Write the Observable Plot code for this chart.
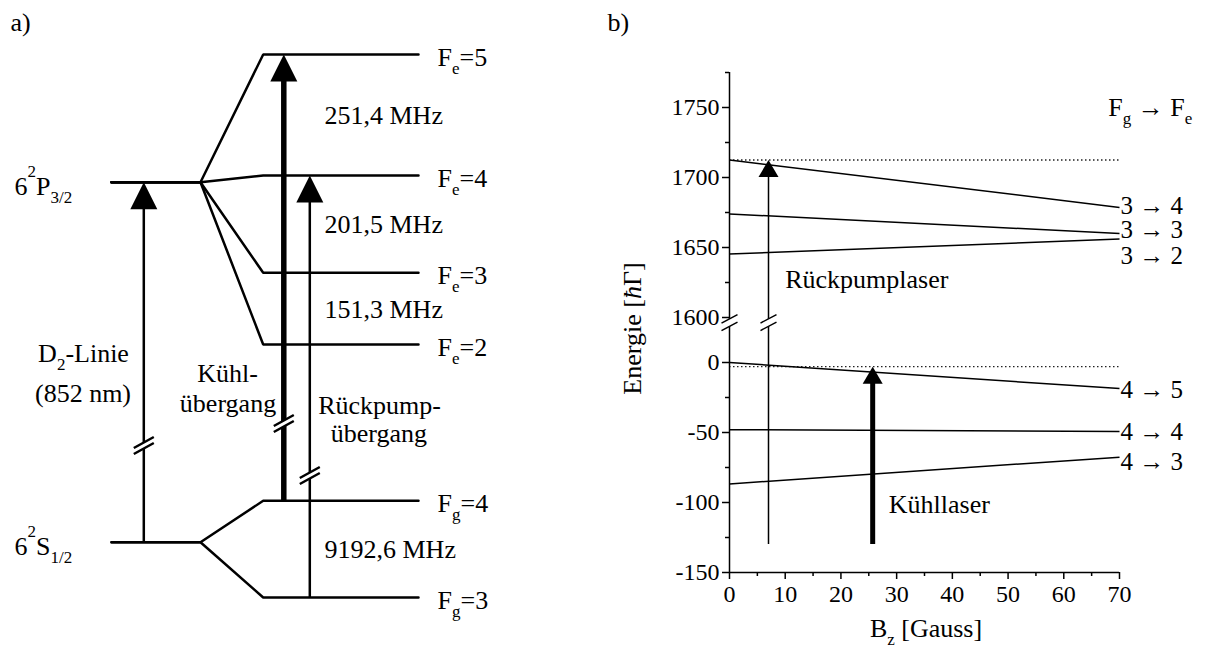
<!DOCTYPE html>
<html>
<head>
<meta charset="utf-8">
<script src="https://cdn.jsdelivr.net/npm/d3@7"></script>
<script src="https://cdn.jsdelivr.net/npm/@observablehq/plot@0.6"></script>
<style>
  html, body { margin: 0; padding: 0; background: #fff; }
  #fig { display: flex; width: 1207px; height: 648px; }
  #fig svg { display: block; }
</style>
</head>
<body>
<div id="fig"></div>
<script>
// ---------- (a) Cs D2 line: fine and hyperfine levels (schematic heights, up = higher energy)
const fineTerms = ["6^{2}P_{3/2}", "6^{2}S_{1/2}"];
const fineHeight = [466.3, 106.3];
const hfLabels = ["F_{e}=5", "F_{e}=4", "F_{e}=3", "F_{e}=2", "F_{g}=4", "F_{g}=3"];
const hfHeight = [594, 473, 375.7, 304, 147.7, 51];
const hfParent = [0, 0, 0, 0, 1, 1];
const splitLabels = ["251,4 MHz", "201,5 MHz", "151,3 MHz", "9192,6 MHz"];
const splitPairs = [[0, 1], [1, 2], [2, 3], [4, 5]];
const transNames = ["D2", "Kühl", "Rückpump"];
const transX = [143.3, 283.3, 309.3];
const transFrom = [106.3, 147.7, 51];
const transTo = [466.3, 594, 473];
const transBreak = [203, 225, 173];
const transText = [["D_{2}-Linie", "(852 nm)"], ["Kühl-", "übergang"], ["Rückpump-", "übergang"]];
const transTextX = [[83, 82.5], [227, 227.5], [379, 378.3]];
const transTextH = [[295, 255], [275, 245], [243.3, 215]];

// ---------- (b) Zeeman shift of the transitions vs. magnetic field
const bField = [0, 70];
const zeemanNames = ["3 → 4", "3 → 3", "3 → 2", "4 → 5", "4 → 4", "4 → 3"];
const energyAt0 = [1712.5, 1674, 1645.3, 0, -48, -86.7];
const energyAt70 = [1678.6, 1660, 1656, -18.6, -49.3, -67.6];
const labelEnergy = [1680, 1662.5, 1644, -20, -50, -71];
const laserNames = ["Rückpumplaser", "Kühllaser"];
const laserB = [7, 25.7];
const laserBottom = [-130, -130];
const laserTarget = [1712.5, -3];
const laserLabelB = [10, 28.6];
const laserLabelE = [1627, -101.4];
const yMajor = [-150, -100, -50, 0, 1600, 1650, 1700, 1750];
const yMinor = [-125, -75, -25, 1625, 1675, 1725, 1775];
const xMajor = [0, 10, 20, 30, 40, 50, 60, 70];
const xMinor = [5, 15, 25, 35, 45, 55, 65];
const axisExtent = [-150, 1775];
const axisBreak = 1420; // lies in the omitted range 0…1600

// broken energy axis: the range 0…1600 is squeezed into a short gap
const GAP = 32.14;
const brk = v => v <= 0 ? v : v >= 1600 ? v - 1600 + GAP : v / 1600 * GAP;
const unbrk = d => Math.round(d <= 0 ? d : d >= GAP ? d + 1600 - GAP : d / GAP * 1600);

const FONT = "'Liberation Serif', 'Times New Roman', serif";

// filled arrow head with its tip at the anchor point
const head = (w, h) => ({
  draw(ctx) { ctx.moveTo(0, 0); ctx.lineTo(w / 2, h); ctx.lineTo(-w / 2, h); ctx.closePath(); }
});
// "//" break mark and the white gap between its strokes
const slashes = (w, rise, sep) => ({
  draw(ctx) {
    for (const o of [-sep / 2, sep / 2]) { ctx.moveTo(-w / 2, o + rise / 2); ctx.lineTo(w / 2, o - rise / 2); }
  }
});
const slashGap = (g, w, rise, sep) => ({
  draw(ctx) {
    const k = rise / w;
    ctx.moveTo(-g, -sep / 2 + k * g); ctx.lineTo(g, -sep / 2 - k * g);
    ctx.lineTo(g, sep / 2 - k * g); ctx.lineTo(-g, sep / 2 + k * g); ctx.closePath();
  }
});

// turn _{..} / ^{..} / *{..} markup into subscript, superscript and italic tspans
function scripts(svg, small, sub, sup) {
  d3.select(svg).selectAll("text").each(function () {
    const s = this.textContent;
    if (!/[_^*]\{/.test(s)) return;
    const el = d3.select(this);
    el.text(null);
    let shift = 0;
    for (const m of s.matchAll(/([_^*])\{([^}]*)\}|([^_^*{}]+)/g)) {
      const t = el.append("tspan");
      let target = 0;
      if (m[1] === "_" || m[1] === "^") {
        target = m[1] === "_" ? sub : -sup;
        t.attr("font-size", small).text(m[2]);
      } else if (m[1] === "*") {
        t.attr("font-style", "italic").text(m[2]);
      } else {
        t.text(m[3]);
      }
      if (target - shift !== 0) t.attr("dy", target - shift);
      shift = target;
    }
  });
}

// ---------- panel (a)
const col = {fineStart: 111, split: 200, hfStart: 262.7, hfEnd: 418, label: 437, splitLabel: 324, term: 14};
const fine = fineTerms.map((t, i) => ({t, h: fineHeight[i]}));
const levels = hfLabels.map((label, i) => ({label, h: hfHeight[i], parent: fineHeight[hfParent[i]]}));
const levelPath = levels.flatMap((d, i) => [
  {i, x: col.fineStart, h: d.parent},
  {i, x: col.split, h: d.parent},
  {i, x: col.hfStart, h: d.h},
  {i, x: col.hfEnd, h: d.h}
]);
const splits = splitLabels.map((label, i) => ({label, h: (hfHeight[splitPairs[i][0]] + hfHeight[splitPairs[i][1]]) / 2}));
const trans = transNames.map((name, i) => ({name, x: transX[i], h1: transFrom[i], h2: transTo[i], hb: transBreak[i]}));
const transLabels = transText.flatMap((lines, i) => lines.map((t, j) => ({t, x: transTextX[i][j], h: transTextH[i][j]})));

const panelA = Plot.plot({
  width: 560, height: 648, margin: 0,
  x: {domain: [0, 560], range: [0, 560], axis: null},
  y: {domain: [0, 648], range: [648, 0], axis: null},
  style: {fontFamily: FONT, fontSize: "26px", background: "white", color: "black"},
  marks: [
    Plot.line(levelPath, {x: "x", y: "h", z: "i", stroke: "black", strokeWidth: 2.5, strokeLinejoin: "miter"}),
    // shaft runs from the arrow tip (y1, shortened under the head) down to the lower level (y2)
    Plot.ruleX(trans, {x: "x", y1: "h2", y2: "h1", insetTop: 20, stroke: "black",
      strokeWidth: d => d.name === "Kühl" ? 5.5 : 2.5}),
    Plot.dot(trans, {x: "x", y: "h2", symbol: head(27, 27), fill: "black", stroke: "none"}),
    Plot.dot(trans, {x: "x", y: "hb", symbol: slashGap(6, 20, 11, 6), fill: "white", stroke: "none"}),
    Plot.dot(trans, {x: "x", y: "hb", symbol: slashes(20, 11, 6), fill: "none", stroke: "black", strokeWidth: 2.5}),
    Plot.text(fine, {x: col.term, y: "h", text: "t", textAnchor: "start", dy: 4}),
    Plot.text(levels, {x: col.label, y: "h", text: "label", textAnchor: "start", dy: 3}),
    Plot.text(splits, {x: col.splitLabel, y: "h", text: "label", textAnchor: "start", dy: 1}),
    Plot.text(transLabels, {x: "x", y: "h", text: "t", textAnchor: "middle"}),
    Plot.text(["a)"], {frameAnchor: "top-left", dx: 10, dy: 22, textAnchor: "start", lineAnchor: "middle"})
  ]
});
scripts(panelA, "17px", 8, 18);

// ---------- panel (b)
const zeeman = zeemanNames.map((name, i) => ({name, e0: energyAt0[i], e1: energyAt70[i], eLabel: labelEnergy[i]}));
const lasers = laserNames.map((name, i) => ({name, B: laserB[i], from: laserBottom[i], to: laserTarget[i], lb: laserLabelB[i], le: laserLabelE[i]}));
const breaks = [0, laserB[0]];

const panelB = Plot.plot({
  width: 647, height: 648,
  marginLeft: 169, marginRight: 88, marginTop: 72, marginBottom: 76,
  x: {domain: [0, 70], label: null},
  y: {domain: axisExtent.map(brk), label: null},
  style: {fontFamily: FONT, fontSize: "24px", background: "white", color: "black"},
  marks: [
    Plot.ruleY(laserTarget, {y: brk, x1: bField[0], x2: bField[1], stroke: "#222", strokeWidth: 1.3, strokeDasharray: "1.5,2.5"}),
    Plot.link(zeeman, {x1: bField[0], x2: bField[1], y1: d => brk(d.e0), y2: d => brk(d.e1), stroke: "black", strokeWidth: 1.5}),
    Plot.ruleX([0], {y1: brk(axisExtent[0]), y2: brk(axisExtent[1]), stroke: "black", strokeWidth: 1.5}),
    Plot.ruleY([axisExtent[0]], {y: brk, x1: 0, x2: 70, stroke: "black", strokeWidth: 1.5}),
    Plot.axisY(yMajor.map(brk), {tickSize: 7, tickPadding: 3, tickFormat: d => String(unbrk(d)), fontSize: 24, label: null, strokeWidth: 1.5}),
    Plot.axisY(yMinor.map(brk), {tickSize: 4, tickFormat: () => "", label: null, strokeWidth: 1.5}),
    Plot.axisX(xMajor, {tickSize: 7, tickPadding: 5, tickFormat: d => String(d), fontSize: 24, label: null, strokeWidth: 1.5}),
    Plot.axisX(xMinor, {tickSize: 4, tickFormat: () => "", label: null, strokeWidth: 1.5}),
    Plot.ruleX(lasers, {x: "B", y1: d => brk(d.to), y2: d => brk(d.from), insetTop: 12, stroke: "black",
      strokeWidth: d => d.name === "Kühllaser" ? 5 : 1.5}),
    Plot.dot(lasers, {x: "B", y: d => brk(d.to), symbol: head(20, 17), fill: "black", stroke: "none"}),
    Plot.dot(breaks, {x: d => d, y: brk(axisBreak), symbol: slashGap(4, 16, 8.5, 7.5), fill: "white", stroke: "none"}),
    Plot.dot(breaks, {x: d => d, y: brk(axisBreak), symbol: slashes(16, 8.5, 7.5), fill: "none", stroke: "black", strokeWidth: 1.5}),
    Plot.text(zeeman, {x: bField[1], y: d => brk(d.eLabel), text: "name", textAnchor: "start", dx: 1, fontSize: 25}),
    Plot.text(lasers, {x: "lb", y: d => brk(d.le), text: "name", textAnchor: "start", fontSize: 26}),
    Plot.text(["F_{g} → F_{e}"], {x: 68, y: brk(1750), textAnchor: "start", fontSize: 26}),
    Plot.text(["Energie [*{ħ}Γ]"], {frameAnchor: "left", dx: -97, dy: 6, rotate: -90, textAnchor: "middle", lineAnchor: "middle", fontSize: 26}),
    Plot.text(["B_{z} [Gauss]"], {frameAnchor: "bottom", dx: 1.5, dy: 56, textAnchor: "middle", lineAnchor: "middle", fontSize: 26}),
    Plot.text(["b)"], {frameAnchor: "top-left", dx: 47 - 169, dy: 22 - 72, textAnchor: "start", lineAnchor: "middle", fontSize: 26})
  ]
});
scripts(panelB, "17px", 8, 18);

document.getElementById("fig").append(panelA, panelB);
</script>
</body>
</html>
